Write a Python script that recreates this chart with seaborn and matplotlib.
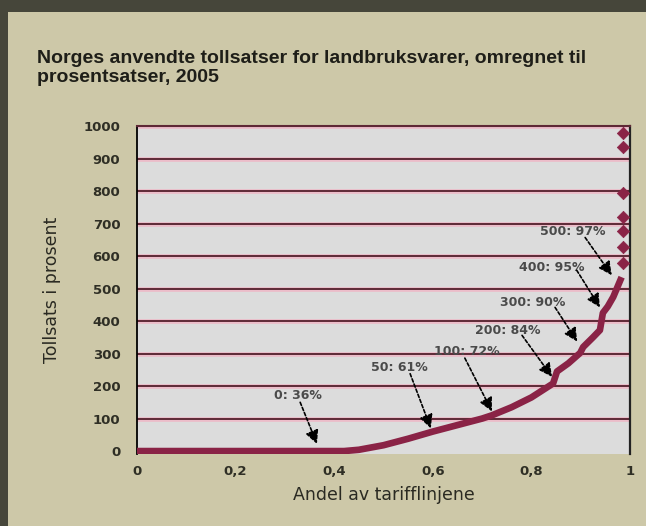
import matplotlib
matplotlib.use("Agg")
import matplotlib.pyplot as plt
import seaborn as sns
import pandas as pd

# Andel av tarifflinjene (kumulativ) og tollsats i prosent
andel = [0, 0.42, 0.45, 0.50, 0.55, 0.60, 0.65, 0.70, 0.72, 0.76, 0.80,
         0.844, 0.852, 0.875, 0.899, 0.905, 0.925, 0.939, 0.945, 0.955,
         0.966, 0.983]
tollsats = [0, 0, 4, 18, 38, 60, 80, 100, 110, 135, 165,
            208, 245, 270, 302, 320, 350, 372, 425, 445,
            474, 535]

# enkeltlinjer med svært høy toll
topp_andel = [0.986] * 7
topp_sats = [978, 935, 793, 721, 678, 628, 579]

etiketter = ["0: 36%", "50: 61%", "100: 72%", "200: 84%", "300: 90%", "400: 95%", "500: 97%"]
etikett_pos = [(0.327, 170), (0.533, 258), (0.669, 305), (0.753, 372),
               (0.803, 458), (0.842, 566), (0.883, 676)]
pil_start = [(0.331, 150), (0.554, 238), (0.665, 286), (0.781, 356),
             (0.848, 442), (0.892, 556), (0.909, 657)]
pil_spiss = [(0.365, 22), (0.596, 70), (0.72, 122), (0.842, 228),
             (0.893, 337), (0.939, 442), (0.963, 541)]

xticks = [0, 0.2, 0.4, 0.6, 0.8, 1]
xticklabels = ["0", "0,2", "0,4", "0,6", "0,8", "1"]
yticks = list(range(0, 1001, 100))

sns.set_style("white")
plt.rcParams['font.family'] = ['DejaVu Sans']

maroon = "#8a2346"
beige = "#cdc8a8"

fig = plt.figure(figsize=(6.46, 5.26), dpi=100, facecolor="#46463a")
# lys panel innenfor den mørke rammen
fig.patches.append(plt.Rectangle((8 / 646, 0), 1, 1 - 12 / 526, transform=fig.transFigure,
                                 facecolor=beige, edgecolor="none", zorder=-5))

ax = fig.add_axes([137 / 646, 1 - 454 / 526, (630 - 137) / 646, (454 - 126) / 526])
ax.set_facecolor("#dcdcdc")

for y in yticks[1:]:
    ax.axhline(y, color="#ecbcc9", lw=3.4, zorder=1)
    ax.axhline(y, color="#5e2936", lw=1.4, zorder=1.1)

df = pd.DataFrame({"andel": andel, "tollsats": tollsats})
sns.lineplot(data=df, x="andel", y="tollsats", ax=ax, color=maroon, lw=4.8,
             estimator=None, sort=False, zorder=3, solid_capstyle="butt")
sns.scatterplot(x=topp_andel, y=topp_sats, ax=ax, color=maroon, marker="D",
                s=40, edgecolor=maroon, zorder=4, clip_on=False)

for tekst, (tx, ty) in zip(etiketter, etikett_pos):
    ax.text(tx, ty, tekst, ha="center", va="center", fontsize=9,
            fontweight="bold", color="#4a4a4a", zorder=5)
for (sx, sy), (ex, ey) in zip(pil_start, pil_spiss):
    ax.annotate("", xy=(ex, ey), xytext=(sx, sy), zorder=5,
                arrowprops=dict(arrowstyle="-|>,head_length=0.8,head_width=0.4",
                                mutation_scale=10, color="black", lw=1.2,
                                linestyle=(0, (2, 1.3)), shrinkA=0, shrinkB=0))

ax.set_xlim(0, 1)
ax.set_ylim(-9, 1000)
ax.set_xticks(xticks)
ax.set_xticklabels(xticklabels)
ax.set_yticks(yticks)
ax.tick_params(axis="x", length=5, width=1.3, color="#333333", pad=3,
               labelsize=9.5, labelcolor="#2f2f25")
ax.tick_params(axis="y", length=0, pad=12, labelsize=9.5, labelcolor="#2f2f25")
for lab in ax.get_xticklabels() + ax.get_yticklabels():
    lab.set_fontweight("bold")

ax.set_xlabel("Andel av tarifflinjene", fontsize=12.5, color="#2a2a22", labelpad=6)
ax.set_ylabel("Tollsats i prosent", fontsize=12.5, color="#2a2a22", labelpad=16)

ax.spines["left"].set_color("black")
ax.spines["left"].set_linewidth(1.3)
ax.spines["right"].set_color("#222222")
ax.spines["right"].set_linewidth(1.6)
ax.spines["top"].set_color("#5e2936")
ax.spines["top"].set_linewidth(1.5)
ax.spines["bottom"].set_visible(False)

fig.text(37 / 646, 1 - 50 / 526,
         "Norges anvendte tollsatser for landbruksvarer, omregnet til\nprosentsatser, 2005",
         ha="left", va="top", fontsize=14, fontweight="bold", color="#1e1e18",
         family=["Liberation Sans", "DejaVu Sans"], linespacing=1.15)

fig.savefig("out.png", dpi=100, facecolor=fig.get_facecolor())
